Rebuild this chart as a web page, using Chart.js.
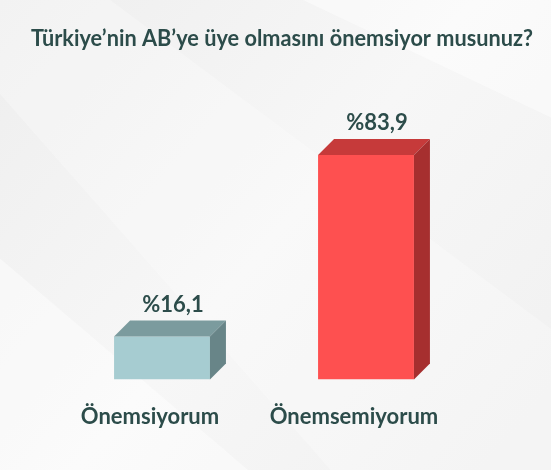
<!DOCTYPE html>
<html>
<head>
<meta charset="utf-8">
<script src="https://cdn.jsdelivr.net/npm/chart.js@4"></script>
<style>
  html, body { margin: 0; padding: 0; background: #f2f2f2; }
  #wrap { width: 551px; height: 470px; position: relative; }
</style>
</head>
<body>
<div id="wrap"><canvas id="grafico"></canvas></div>
<script>
// Datos
const titulo = "Türkiye’nin AB’ye üye olmasını önemsiyor musunuz?";
const categorias = ["Önemsiyorum", "Önemsemiyorum"];
const valores = [16.1, 83.9];
const coloresFrente = ["#a6ccd1", "#fe5050"];
const coloresArriba = ["#7b9b9e", "#c63a3a"];
const coloresLado = ["#688588", "#a62f2f"];

const colorTexto = "#2c4c4a";
const fuente = "Lato, 'Open Sans', sans-serif";
const prof = 16; // profundidad del efecto 3D

// fondo gris con reflejos diagonales
const fondo = {
    id: "fondo",
    beforeDraw(chart) {
        const c = chart.ctx;
        const w = chart.width, h = chart.height;
        c.save();
        let g = c.createLinearGradient(0, 0, w, h);
        g.addColorStop(0, "#eeeeee");
        g.addColorStop(0.5, "#f7f7f7");
        g.addColorStop(1, "#f0f0f0");
        c.fillStyle = g;
        c.fillRect(0, 0, w, h);
        c.fillStyle = "rgba(255,255,255,0.45)";
        c.beginPath();
        c.moveTo(w * 0.55, 0);
        c.lineTo(w, 0);
        c.lineTo(w, h * 0.25);
        c.closePath();
        c.fill();
        c.beginPath();
        c.moveTo(0, h * 0.55);
        c.lineTo(w * 0.45, h);
        c.lineTo(0, h);
        c.closePath();
        c.fill();
        c.fillStyle = "rgba(255,255,255,0.25)";
        c.beginPath();
        c.moveTo(0, h * 0.2);
        c.lineTo(w * 0.6, h);
        c.lineTo(w, h);
        c.lineTo(w, h * 0.7);
        c.lineTo(w * 0.2, 0);
        c.lineTo(0, 0);
        c.closePath();
        c.fill();
        // titulo
        c.fillStyle = colorTexto;
        c.font = "bold 22px " + fuente;
        c.textAlign = "center";
        c.textBaseline = "alphabetic";
        c.fillText(titulo, 282, 46, 502);
        c.restore();
    }
};

// caras superior y lateral + etiquetas de valor
const barras3d = {
    id: "barras3d",
    afterDatasetsDraw(chart) {
        const c = chart.ctx;
        const meta = chart.getDatasetMeta(0);
        c.save();
        meta.data.forEach((bar, i) => {
            const izq = bar.x - bar.width / 2;
            const der = bar.x + bar.width / 2;
            const arriba = bar.y;
            const base = bar.base;

            c.fillStyle = coloresArriba[i];
            c.beginPath();
            c.moveTo(izq, arriba);
            c.lineTo(izq + prof, arriba - prof);
            c.lineTo(der + prof, arriba - prof);
            c.lineTo(der, arriba);
            c.closePath();
            c.fill();

            c.fillStyle = coloresLado[i];
            c.beginPath();
            c.moveTo(der, arriba);
            c.lineTo(der + prof, arriba - prof);
            c.lineTo(der + prof, base - prof);
            c.lineTo(der, base);
            c.closePath();
            c.fill();

            c.fillStyle = colorTexto;
            c.font = "bold 22px " + fuente;
            c.textAlign = "center";
            c.textBaseline = "alphabetic";
            const txt = "%" + valores[i].toFixed(1).replace(".", ",");
            c.fillText(txt, bar.x + 11, arriba - prof - 9);
        });
        c.restore();
    }
};

const ctx = document.getElementById("grafico").getContext("2d");
window.myChart = new Chart(ctx, {
    type: "bar",
    data: {
        labels: categorias,
        datasets: [{
            data: valores,
            backgroundColor: coloresFrente,
            borderWidth: 0,
            barPercentage: 1,
            categoryPercentage: 0.47
        }]
    },
    options: {
        responsive: true,
        maintainAspectRatio: false,
        animation: false,
        layout: {
            padding: { top: 112, left: 60, right: 83, bottom: 16 }
        },
        plugins: {
            legend: { display: false },
            title: { display: false },
            tooltip: { enabled: false }
        },
        scales: {
            y: {
                display: false,
                min: 0,
                max: 100
            },
            x: {
                grid: { display: false, drawTicks: false },
                border: { display: false },
                ticks: {
                    color: colorTexto,
                    font: { family: fuente, size: 22, weight: "bold" },
                    padding: 24,
                    labelOffset: -12
                }
            }
        }
    },
    plugins: [fondo, barras3d]
});
</script>
</body>
</html>
